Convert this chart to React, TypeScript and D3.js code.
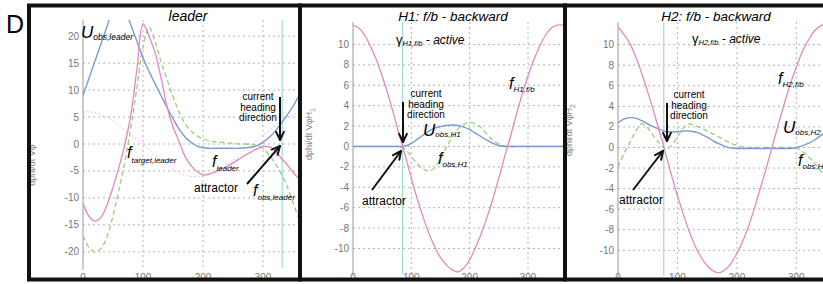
import React, { useEffect, useRef } from 'react';
import * as d3 from 'd3';

// heading direction (deg)
const angles = [0, 10, 20, 30, 40, 50, 60, 70, 80, 90, 100, 110, 120, 130, 140, 150, 160, 170, 180,
  190, 200, 210, 220, 230, 240, 250, 260, 270, 280, 290, 300, 310, 320, 330, 340, 350, 360];

// panel "leader"
const leaderF = [-11, -13.4, -14.3, -13.6, -11.3, -8, -4.3, 0, 5.6, 14, 22.3, 20, 17, 12.3, 7, 3.2, 0.5, -2.3, -4,
  -5.1, -5.7, -5.6, -5.2, -4.7, -4.2, -3.5, -2.8, -2.1, -1.5, -0.9, -0.5, -0.5, -1.2, -2.6, -3.8, -5.2, -6.5];
const leaderObs = [-17, -19.2, -20, -19.4, -17.2, -13.3, -8.5, -3, 3.3, 10.5, 18, 21.7, 19, 15.3, 12, 8.8, 6, 3.8, 2.4,
  1.5, 1, 0.6, 0.4, 0.3, 0.2, 0.1, 0, 0, -0.1, -0.3, -0.8, -2, -3.6, -5.4, -7.8, -10.8, -14];
const leaderU = [9, 12.2, 15.4, 18.6, 21.8, 25, 27, 25, 22, 19, 16, 13.5, 11.2, 9, 6.8, 4.7, 2.8, 1.3, 0.3,
  -0.4, -0.7, -0.8, -0.8, -0.8, -0.8, -0.8, -0.8, -0.7, -0.6, -0.3, 0.3, 1.2, 2.3, 3.8, 5.3, 7, 9];
const leaderTarget = [5.9, 6, 5.8, 5.5, 5, 4.3, 3.5, 2.6, 1.7, 0.8, 0, -1, -2, -3, -3.9, -4.7, -5.3, -5.8, -6,
  -6, -5.9, -5.6, -5.2, -4.6, -3.9, -3.1, -2.2, -1.2, -0.3, 0.7, 1.6, 2.5, 3.4, 4.2, 4.9, 5.4, 5.9];

// panel "H1"
const h1F = [11.9, 11.6, 10.9, 9.8, 8.5, 6.9, 5.1, 3.1, 1, -1, -3.1, -5.1, -6.9, -8.5, -9.8, -10.9, -11.6, -12.1, -12.3,
  -11.9, -11.1, -9.9, -8.5, -6.9, -5.1, -3.1, -1, 1, 3.1, 5.1, 6.9, 8.5, 9.8, 10.9, 11.6, 11.9, 11.9];
const h1U = [0, 0, 0, 0, 0, 0, 0, 0, 0, 0.05, 0.3, 0.7, 1.1, 1.5, 1.8, 1.95, 2.05, 2.1, 2.05,
  1.9, 1.65, 1.3, 0.95, 0.6, 0.3, 0.1, 0, 0, 0, 0, 0, 0, 0, 0, 0, 0, 0];
const h1Obs = [0, 0, 0, 0, 0, 0, 0, 0, 0, -0.3, -1, -1.7, -2.2, -2.4, -2.1, -1.2, -0.1, 0.9, 1.7,
  2.15, 2.35, 2.2, 1.8, 1.2, 0.6, 0.25, 0.05, 0, 0, 0, 0, 0, 0, 0, 0, 0, 0];

// panel "H2"
const h2F = [11.7, 11, 10.1, 8.8, 7.2, 5.4, 3.5, 1.5, -0.6, -2.7, -4.7, -6.5, -8.2, -9.6, -10.7, -11.5, -12, -12.2, -11.9,
  -11.3, -10.3, -9.1, -7.6, -5.8, -3.9, -1.9, 0.2, 2.3, 4.3, 6.2, 7.8, 9.3, 10.4, 11.3, 11.8, 12, 11.7];
const h2U = [2.4, 2.75, 2.9, 2.85, 2.6, 2.3, 2, 1.75, 1.55, 1.5, 1.55, 1.6, 1.6, 1.5, 1.3, 1, 0.65, 0.35, 0.1,
  -0.05, -0.1, -0.1, -0.1, -0.1, -0.1, -0.1, -0.1, -0.1, -0.1, -0.1, 0, 0.15, 0.4, 0.7, 1.1, 1.6, 2.1];
const h2Obs = [-1.9, -0.6, 0.5, 1.6, 2.3, 1.9, 1.1, 0.4, -0.2, 0.2, 1, 1.9, 2.3, 2.1, 1.9, 1.6, 1.3, 1, 0.7,
  0.4, 0.2, 0.05, 0, 0, 0, 0, 0, 0, 0, 0, -0.1, -0.4, -0.9, -1.5, -2.2, -2.8, -3.3];

const leaderTicks = [-20, -15, -10, -5, 0, 5, 10, 15, 20];
const hTicks = [-10, -8, -6, -4, -2, 0, 2, 4, 6, 8, 10];
const xTicks = [0, 100, 200, 300];

const PINK = '#e389bd';
const BLUE = '#7c99d3';
const GREEN = '#9acd7c';
const CYAN = '#a3dbcf';
const FONT = 'Liberation Sans, Arial, sans-serif';

const App = () => {
  const svgRef = useRef(null);

  useEffect(() => {
    document.body.style.margin = '0';
    const svg = d3.select(svgRef.current);
    svg.selectAll('*').remove();
    svg.append('rect').attr('width', 823).attr('height', 284).attr('fill', '#fff');

    const panels = [
      {
        left: 83, right: 299, top: 20, bottom: 268, yDomain: [-23, 23], yTicks: leaderTicks, cyan: 332,
        series: [
          { v: leaderTarget, color: PINK, dash: '1.5,2.5', w: 1, op: 0.7 },
          { v: leaderObs, color: GREEN, dash: '5,3', w: 1.3 },
          { v: leaderU, color: BLUE, w: 1.4 },
          { v: leaderF, color: PINK, w: 1.3 },
        ],
        ylabelX: 35, ylabelY: 165, ylabelSub: '',
      },
      {
        left: 353, right: 563, top: 22, bottom: 274, yDomain: [-12.5, 12.2], yTicks: hTicks, cyan: 85,
        series: [
          { v: h1Obs, color: GREEN, dash: '5,3', w: 1.3 },
          { v: h1U, color: BLUE, w: 1.4 },
          { v: h1F, color: PINK, w: 1.3 },
        ],
        ylabelX: 312, ylabelY: 134, ylabelSub: '1',
      },
      {
        left: 618, right: 832, top: 22, bottom: 276, yDomain: [-12.5, 12.2], yTicks: hTicks, cyan: 77,
        series: [
          { v: h2Obs, color: GREEN, dash: '5,3', w: 1.3 },
          { v: h2U, color: BLUE, w: 1.4 },
          { v: h2F, color: PINK, w: 1.3 },
        ],
        ylabelX: 572, ylabelY: 130, ylabelSub: '2',
      },
    ];

    panels.forEach((p, i) => {
      const x = d3.scaleLinear().domain([0, 360]).range([p.left, p.right]);
      const y = d3.scaleLinear().domain(p.yDomain).range([p.bottom, p.top]);
      const g = svg.append('g');

      svg.append('clipPath').attr('id', 'clip' + i)
        .append('rect')
        .attr('x', p.left).attr('y', p.top)
        .attr('width', p.right - p.left).attr('height', p.bottom - p.top);

      // grid
      g.selectAll('.hg').data(p.yTicks).enter().append('line')
        .attr('x1', p.left).attr('x2', p.right)
        .attr('y1', d => y(d)).attr('y2', d => y(d))
        .attr('stroke', '#b3b3b3').attr('stroke-dasharray', '2,3');
      g.selectAll('.vg').data(xTicks.slice(1)).enter().append('line')
        .attr('x1', d => x(d)).attr('x2', d => x(d))
        .attr('y1', p.top).attr('y2', p.bottom)
        .attr('stroke', '#b3b3b3').attr('stroke-dasharray', '2,3');

      // y axis
      g.append('line').attr('x1', x(0)).attr('x2', x(0)).attr('y1', p.top).attr('y2', p.bottom + 2)
        .attr('stroke', '#999');

      // tick labels
      g.selectAll('.yt').data(p.yTicks).enter().append('text')
        .attr('x', x(0) - 4).attr('y', d => y(d)).attr('dy', '0.35em')
        .attr('text-anchor', 'end').attr('font-size', 10).attr('font-family', FONT)
        .attr('fill', '#777').text(d => d);
      g.selectAll('.xt').data(xTicks).enter().append('text')
        .attr('x', d => x(d)).attr('y', 281)
        .attr('text-anchor', 'middle').attr('font-size', 10).attr('font-family', FONT)
        .attr('fill', '#777').text(d => d);

      // y label
      const yl = g.append('text')
        .attr('transform', `translate(${p.ylabelX},${p.ylabelY}) rotate(-90)`)
        .attr('text-anchor', 'middle').attr('font-size', 9).attr('font-family', FONT)
        .attr('fill', '#888');
      yl.append('tspan').text(p.ylabelSub ? 'dphi/dt  V\u03c6H' : 'dphi/dt  V\u03c6');
      if (p.ylabelSub) yl.append('tspan').attr('font-size', 7).attr('dy', 3).text(p.ylabelSub);

      // attractor heading line
      g.append('line').attr('x1', x(p.cyan)).attr('x2', x(p.cyan)).attr('y1', p.top).attr('y2', p.bottom)
        .attr('stroke', CYAN).attr('stroke-width', 1.2);

      // curves
      const line = d3.line()
        .x((d, k) => x(angles[k]))
        .y(d => y(d))
        .curve(d3.curveCatmullRom.alpha(0.5));
      const cg = g.append('g').attr('clip-path', `url(#clip${i})`);
      p.series.forEach(s => {
        cg.append('path').attr('d', line(s.v)).attr('fill', 'none')
          .attr('stroke', s.color).attr('stroke-width', s.w)
          .attr('stroke-dasharray', s.dash || null)
          .attr('opacity', s.op || 1);
      });
    });

    // annotations
    const ann = svg.append('g').attr('font-family', FONT);

    const label = (x, y, main, sub, size = 16, subSize = 8, dy = 4) => {
      const t = ann.append('text').attr('x', x).attr('y', y).attr('font-style', 'italic').attr('font-size', size);
      t.append('tspan').text(main);
      t.append('tspan').attr('font-size', subSize).attr('dy', dy).text(sub);
    };
    const plain = (x, y, txt, size, anchor = 'start', italic = false) => {
      ann.append('text').attr('x', x).attr('y', y).attr('font-size', size)
        .attr('text-anchor', anchor).attr('font-style', italic ? 'italic' : null).text(txt);
    };
    const arrow = (x1, y1, x2, y2) => {
      const a = Math.atan2(y2 - y1, x2 - x1);
      const len = 9;
      const spread = 0.45;
      ann.append('line').attr('x1', x1).attr('y1', y1).attr('x2', x2).attr('y2', y2)
        .attr('stroke', '#111').attr('stroke-width', 2);
      [a + Math.PI - spread, a + Math.PI + spread].forEach(b => {
        ann.append('line').attr('x1', x2).attr('y1', y2)
          .attr('x2', x2 + len * Math.cos(b)).attr('y2', y2 + len * Math.sin(b))
          .attr('stroke', '#111').attr('stroke-width', 2).attr('stroke-linecap', 'round');
      });
    };
    const heading = (cx, y0) => {
      ['current', 'heading', 'direction'].forEach((w, k) => plain(cx, y0 + k * 10.5, w, 10, 'middle'));
    };
    const gamma = (x, y, sub) => {
      const t = ann.append('text').attr('x', x).attr('y', y).attr('font-size', 13);
      t.append('tspan').text('\u03b3');
      t.append('tspan').attr('font-size', 7.5).attr('font-style', 'italic').attr('dy', 2).text(sub);
      t.append('tspan').attr('font-size', 12).attr('font-style', 'italic').attr('dy', -2).text(' - active');
    };

    plain(6, 33, 'D', 25);

    // leader
    plain(188, 21, 'leader', 14, 'middle', true);
    label(81, 38, 'U', 'obs,leader', 17, 8.5, 2);
    label(127, 158, 'f', 'target,leader', 16, 8, 5);
    label(212, 167, 'f', 'leader', 16, 8, 4);
    label(253, 196, 'f', 'obs,leader', 16, 8, 4);
    plain(194, 192, 'attractor', 12);
    heading(258, 100);
    arrow(280, 97, 280, 140);
    arrow(247, 184, 280, 146);

    // H1
    plain(453, 21, 'H1: f/b - backward', 13.5, 'middle', true);
    gamma(396, 44, 'H1,f/b');
    label(509, 89, 'f', 'H1,f/b', 16, 8, 3);
    label(423, 136, 'U', 'obs,H1', 17, 8, 1);
    label(438, 164, 'f', 'obs,H1', 16, 8, 3);
    plain(362, 205, 'attractor', 12);
    heading(426, 97);
    arrow(403, 102, 403, 142);
    arrow(372, 190, 401, 151);

    // H2
    plain(716, 21, 'H2: f/b - backward', 13.5, 'middle', true);
    gamma(692, 43, 'H2,f/b');
    label(778, 84, 'f', 'H2,f/b', 16, 8, 3);
    label(783, 133, 'U', 'obs,H2', 17, 8, 2);
    label(798, 166, 'f', 'obs,H2', 16, 8, 3);
    plain(619, 204, 'attractor', 12);
    heading(689, 98);
    arrow(667, 103, 667, 141);
    arrow(633, 190, 663, 151);

    // frames
    const fr = svg.append('g').attr('fill', 'none').attr('stroke', '#111').attr('stroke-width', 4);
    [[29, 300], [300, 565], [565, 840]].forEach(([a, b]) => {
      fr.append('rect').attr('x', a).attr('y', 5.5).attr('width', b - a).attr('height', 274);
    });
  }, []);

  return <svg ref={svgRef} width={823} height={284} style={{ display: 'block' }}></svg>;
};

export default App;
